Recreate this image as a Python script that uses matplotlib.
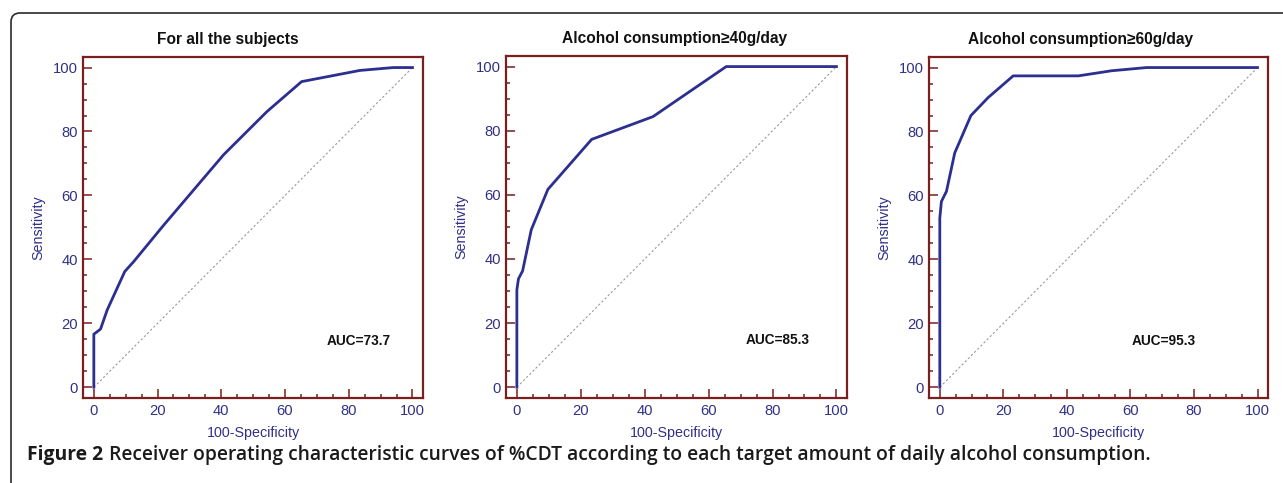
import numpy as np
import matplotlib.pyplot as plt
from matplotlib.patches import FancyBboxPatch
from matplotlib.ticker import MultipleLocator

plt.rcParams['font.family'] = ['Liberation Sans', 'DejaVu Sans']

# ROC points (x = 100-Specificity, y = Sensitivity)
fpr_all = [0, 0, 2.1, 4.2, 9.7, 12.5, 22, 40.7, 54.3, 65.2, 83.5, 94, 100]
sens_all = [0, 16.6, 18.2, 24.2, 36.2, 39.3, 50.8, 72.7, 86.2, 95.6, 99.1, 100, 100]

fpr_40 = [0, 0, 0.5, 1.8, 4.5, 9.7, 23.4, 42.6, 65.5, 100]
sens_40 = [0, 30.4, 33.8, 36.3, 49.1, 61.7, 77.3, 84.4, 100, 100]

fpr_60 = [0, 0, 0.5, 2.1, 4.7, 9.8, 15.2, 23.1, 43.6, 54.1, 65.1, 100]
sens_60 = [0, 52.9, 58.1, 61.3, 73.3, 85.0, 90.6, 97.4, 97.4, 99, 100, 100]

titles = ['For all the subjects', 'Alcohol consumption\u226540g/day', 'Alcohol consumption\u226560g/day']
auc_values = [73.7, 85.3, 95.3]
auc_xpos = [83, 81.6, 70.6]
title_xpos = [0.426, 0.493, 0.448]

caption_bold = 'Figure 2'
caption_rest = ('Receiver operating characteristic curves of %CDT according to each '
                'target amount of daily alcohol consumption.')

curves = [(fpr_all, sens_all), (fpr_40, sens_40), (fpr_60, sens_60)]

W, H = 1283, 483
fig = plt.figure(figsize=(W / 100, H / 100), dpi=100)

# outer rounded frame (pixel coords)
frame = FancyBboxPatch((11, -30), 1400, H - 13 + 30, boxstyle='round,pad=0,rounding_size=9',
                       transform=None, fill=False, edgecolor='#2a2a2a', linewidth=1.2)
fig.patches.append(frame)

boxes = [(83, 57, 423, 398), (506, 56, 847, 398), (929, 57, 1268, 398)]
spine_col = '#7a1e1e'
line_col = '#2c2f90'
label_col = '#303088'

for i, (l, t, r, b) in enumerate(boxes):
    ax = fig.add_axes([l / W, 1 - b / H, (r - l) / W, (b - t) / H])
    fx, sy = curves[i]
    ax.plot([0, 100], [0, 100], color='#9a9a9a', linewidth=0.8, linestyle=(0, (2, 2)))
    ax.plot(fx, sy, color=line_col, linewidth=2.0, solid_joinstyle='round')
    ax.set_xlim(-3.4, 103.3)
    ax.set_ylim(-3.35, 103.3)
    ax.xaxis.set_major_locator(MultipleLocator(20))
    ax.xaxis.set_minor_locator(MultipleLocator(5))
    ax.yaxis.set_major_locator(MultipleLocator(20))
    ax.yaxis.set_minor_locator(MultipleLocator(5))
    ax.tick_params(which='both', direction='in', color=spine_col, width=1.1,
                   labelcolor=label_col, labelsize=10.6)
    ax.tick_params(which='major', length=6.5)
    ax.tick_params(which='minor', length=3.2)
    ax.tick_params(axis='x', pad=4.5)
    ax.tick_params(axis='y', pad=3.5)
    for s in ax.spines.values():
        s.set_color(spine_col)
        s.set_linewidth(1.6)
    ax.text(title_xpos[i], 1.05, titles[i], transform=ax.transAxes, ha='center', va='center',
            fontsize=11.2, fontweight='bold', color='#111111')
    ax.text(-45 / (r - l), 0.5, 'Sensitivity', transform=ax.transAxes, rotation=90,
            ha='center', va='center', fontsize=10.3, color=label_col)
    ax.text(0.5, -35 / (b - t), '100-Specificity', transform=ax.transAxes,
            ha='center', va='center', fontsize=10.3, color=label_col)
    ax.text(auc_xpos[i], 14.6, 'AUC=%.1f' % auc_values[i], ha='center', va='center',
            fontsize=9.8, fontweight='bold', color='#111111')

cap_y = 1 - 455 / H
t1 = fig.text(27 / W, cap_y, caption_bold, fontsize=13.85, fontweight='bold',
              family='Open Sans', color='#1a1a1a', va='center')
fig.canvas.draw()
bb = t1.get_window_extent()
fig.text((bb.x1 + 6) / W, cap_y, caption_rest, fontsize=13.85, fontweight='semibold',
         family='Open Sans', color='#1a1a1a', va='center')

fig.savefig('out.png', dpi=100)
